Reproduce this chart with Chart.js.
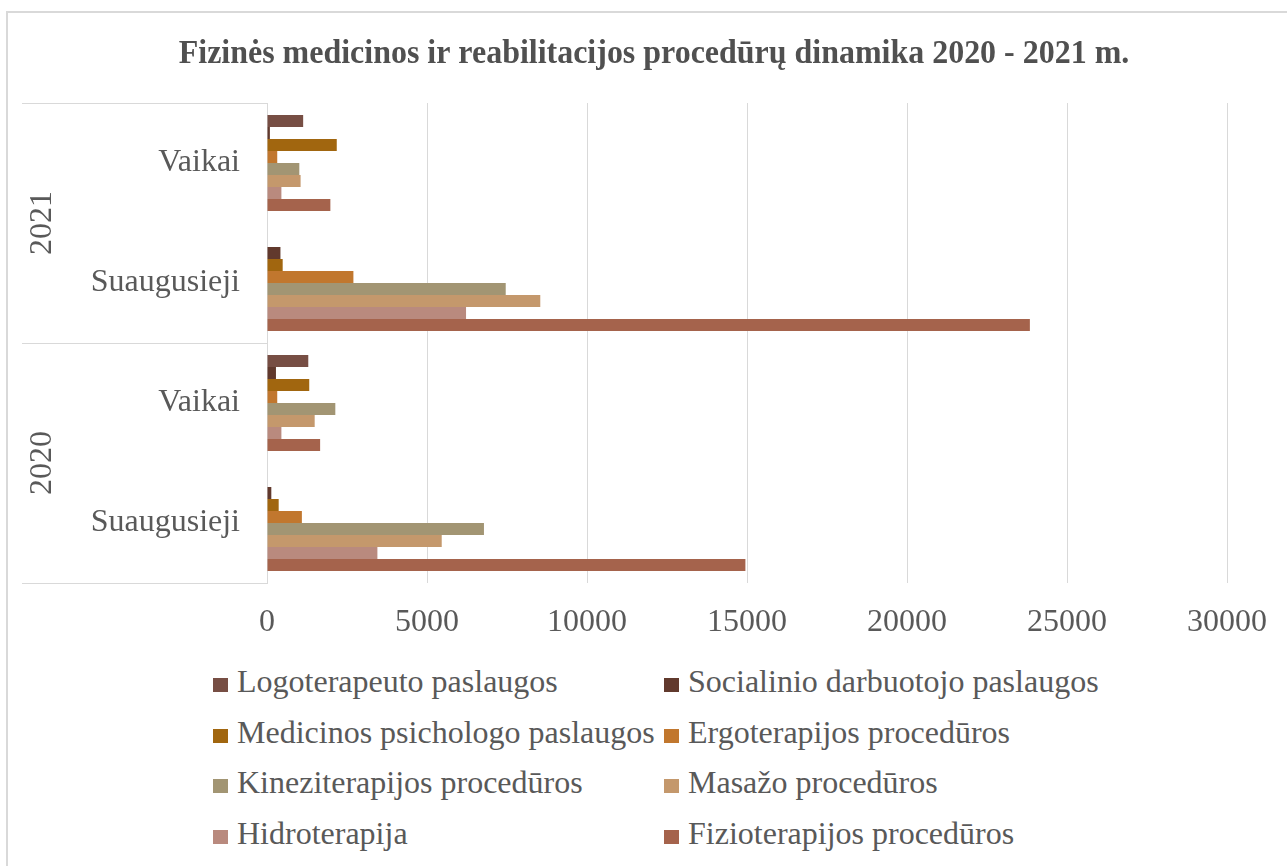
<!DOCTYPE html>
<html>
<head>
<meta charset="utf-8">
<script src="https://cdn.jsdelivr.net/npm/chart.js@4"></script>
<style>
  body { margin: 0; background: #fff; overflow: hidden; width: 1287px; height: 866px; position: relative; }
  #frame { position: absolute; left: 6px; top: 11px; width: 1300px; height: 900px; border-left: 2px solid #d9d9d9; border-top: 2px solid #d9d9d9; }
  #chart { position: absolute; left: 0; top: 0; }
  #legend { position: absolute; left: 0; top: 0; font-family: "Liberation Serif", "Times New Roman", serif; font-size: 32px; color: #595959; }
  .item { position: absolute; line-height: 36px; white-space: nowrap; }
  .item .box { position: absolute; width: 15px; height: 14px; left: -24px; top: 15px; }
</style>
</head>
<body>
<div id="frame"></div>
<canvas id="chart" width="1287" height="643"></canvas>
<div id="legend"></div>
<script>
let chartTitle = "Fizinės medicinos ir reabilitacijos procedūrų dinamika 2020 - 2021 m.";
let categories = ["Vaikai", "Suaugusieji", "Vaikai", "Suaugusieji"];
let years = ["2021", "2020"];

let logoterapeuto = [1130, 0, 1290, 0];
let socialinio = [90, 420, 280, 135];
let psichologo = [2180, 490, 1320, 365];
let ergoterapijos = [320, 2700, 320, 1090];
let kineziterapijos = [1010, 7460, 2135, 6780];
let masazo = [1050, 8540, 1490, 5460];
let hidroterapija = [450, 6220, 450, 3450];
let fizioterapijos = [1980, 23840, 1660, 14950];

let xTicks = [0, 5000, 10000, 15000, 20000, 25000, 30000];

let seriesNames = [
    "Logoterapeuto paslaugos",
    "Socialinio darbuotojo paslaugos",
    "Medicinos psichologo paslaugos",
    "Ergoterapijos procedūros",
    "Kineziterapijos procedūros",
    "Masažo procedūros",
    "Hidroterapija",
    "Fizioterapijos procedūros"
];
let seriesData = [logoterapeuto, socialinio, psichologo, ergoterapijos, kineziterapijos, masazo, hidroterapija, fizioterapijos];
let seriesColors = ["#774e44", "#61392d", "#a1660f", "#c1772e", "#a29573", "#c4986c", "#b98a7e", "#a5634c"];

const serif = "'Liberation Serif', 'Times New Roman', serif";
const textColor = "#595959";
const lineColor = "#d9d9d9";

// title: the reference uses a slightly narrower bold face, so squeeze it a little
let titlePlugin = {
    id: "squeezedTitle",
    afterDraw: function(chart) {
        let ctx = chart.ctx;
        ctx.save();
        ctx.font = "bold 34px " + serif;
        ctx.fillStyle = "#505050";
        ctx.textAlign = "center";
        ctx.textBaseline = "alphabetic";
        ctx.translate(654, 63);
        ctx.scale(0.94, 1);
        ctx.fillText(chartTitle, 0, 0);
        ctx.restore();
    }
};

// outer level of the category axis (years) with its separators
let yearAxisPlugin = {
    id: "yearAxis",
    afterDraw: function(chart) {
        let ctx = chart.ctx;
        let y = chart.scales.y;
        let area = chart.chartArea;
        let step = (y.bottom - y.top) / categories.length;
        let perYear = categories.length / years.length;
        ctx.save();
        ctx.strokeStyle = lineColor;
        ctx.lineWidth = 1;
        for (let i = 0; i <= years.length; i++) {
            let py = Math.round(y.getPixelForValue(i * perYear) - step / 2) + 0.5;
            ctx.beginPath();
            ctx.moveTo(22, py);
            ctx.lineTo(area.left, py);
            ctx.stroke();
        }
        ctx.font = "32px " + serif;
        ctx.fillStyle = textColor;
        ctx.textAlign = "center";
        ctx.textBaseline = "middle";
        years.forEach(function(label, i) {
            let top = y.getPixelForValue(i * perYear) - step / 2;
            let mid = top + step * perYear / 2;
            ctx.save();
            ctx.translate(43, mid);
            ctx.rotate(-Math.PI / 2);
            ctx.fillText(label, 0, 0);
            ctx.restore();
        });
        ctx.restore();
    }
};

let ctx = document.getElementById("chart").getContext("2d");
let chart = new Chart(ctx, {
    type: "bar",
    data: {
        labels: categories,
        datasets: seriesNames.map(function(name, i) {
            return {
                label: name,
                data: seriesData[i],
                backgroundColor: seriesColors[i],
                borderWidth: 0,
                categoryPercentage: 0.8,
                barPercentage: 1.0
            };
        })
    },
    options: {
        indexAxis: "y",
        responsive: false,
        animation: false,
        layout: { padding: { top: 103, right: 60, left: 0, bottom: 0 } },
        plugins: {
            legend: { display: false },
            title: { display: false },
            tooltip: { enabled: false }
        },
        scales: {
            x: {
                min: 0,
                max: 30000,
                afterBuildTicks: function(scale) {
                    scale.ticks = xTicks.map(function(v) { return { value: v }; });
                },
                afterFit: function(scale) { scale.height = 60; },
                grid: { color: lineColor, lineWidth: 1, drawTicks: false },
                border: { display: false },
                ticks: {
                    padding: 20,
                    color: textColor,
                    font: { family: serif, size: 32 },
                    maxRotation: 0,
                    callback: function(value) { return String(value); }
                }
            },
            y: {
                afterFit: function(scale) { scale.width = 267; },
                grid: { display: false, drawTicks: false },
                border: { display: true, color: lineColor, width: 1 },
                ticks: {
                    padding: 27,
                    color: textColor,
                    font: { family: serif, size: 32 }
                }
            }
        }
    },
    plugins: [titlePlugin, yearAxisPlugin]
});

// two-column legend built from the chart's datasets
let legendEl = document.getElementById("legend");
chart.data.datasets.forEach(function(ds, i) {
    let col = i % 2;
    let row = Math.floor(i / 2);
    let baseline = 692 + row * 50.7;
    let item = document.createElement("div");
    item.className = "item";
    item.style.left = (col === 0 ? 237 : 688) + "px";
    item.style.top = (baseline - 29) + "px";
    let box = document.createElement("span");
    box.className = "box";
    box.style.background = ds.backgroundColor;
    item.appendChild(box);
    item.appendChild(document.createTextNode(ds.label));
    legendEl.appendChild(item);
});
</script>
</body>
</html>
